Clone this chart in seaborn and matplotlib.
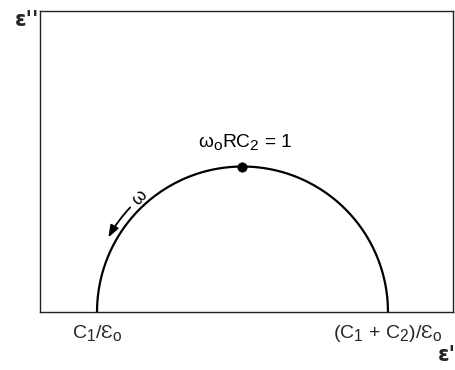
import numpy as np
import pandas as pd
import matplotlib
matplotlib.use("Agg")
import matplotlib.pyplot as plt
import matplotlib._mathtext as _mt
import seaborn as sns
from matplotlib.patches import FancyArrowPatch

# Debye relaxation: permittivity limits (in units of C/eps0)
eps_inf = 1.0          # C1/eps0
eps_s = 3.0            # (C1 + C2)/eps0
omega_tau = np.logspace(-4, 4, 600)

tick_labels = ["C$_1$/Ɛ$_\\mathrm{o}$", "(C$_1$ + C$_2$)/Ɛ$_\\mathrm{o}$"]
peak_label = "ω$_\\mathrm{o}$RC$_2$ = 1"

d_eps = eps_s - eps_inf
eps_re = eps_inf + d_eps / (1 + omega_tau ** 2)
eps_im = d_eps * omega_tau / (1 + omega_tau ** 2)
df = pd.DataFrame({"eps_re": eps_re, "eps_im": eps_im})

sns.set_theme(style="white")
plt.rcParams["font.family"] = ["Liberation Sans", "DejaVu Sans"]
plt.rcParams["mathtext.fontset"] = "custom"
plt.rcParams["mathtext.rm"] = "Liberation Sans"
plt.rcParams["mathtext.it"] = "Liberation Sans"
# slightly larger subscripts
if hasattr(_mt, "SHRINK_FACTOR"):
    _mt.SHRINK_FACTOR = 0.8

fig = plt.figure(figsize=(4.55, 3.70), dpi=100)
ax = fig.add_axes([40 / 455, 1 - 312 / 370, 413 / 455, 301 / 370])

sns.lineplot(data=df, x="eps_re", y="eps_im", sort=False, color="black",
             linewidth=1.6, ax=ax)
sns.scatterplot(x=[eps_inf + d_eps / 2], y=[d_eps / 2], color="black",
                s=45, edgecolor="black", ax=ax, zorder=5)

r = d_eps / 2
cx = eps_inf + r
ax.set_xlim(eps_inf - 0.392 * r, eps_s + 0.447 * r)
ax.set_ylim(0, 2.069 * r)

ax.text(cx + 0.02, 1.17 * r, peak_label, ha="center", va="center",
        fontsize=13.8, color="black")

# direction of increasing frequency along the arc
ra = 1.055 * r
t1, t2 = np.deg2rad(136), np.deg2rad(152)
arrow = FancyArrowPatch((cx + ra * np.cos(t1), ra * np.sin(t1)),
                        (cx + ra * np.cos(t2), ra * np.sin(t2)),
                        connectionstyle="arc3,rad=0.07",
                        arrowstyle="-|>,head_length=0.6,head_width=0.22",
                        mutation_scale=12, lw=1.3, color="black")
ax.add_patch(arrow)
tw = np.deg2rad(132)
ax.text(cx + 1.055 * r * np.cos(tw), 1.055 * r * np.sin(tw), "ω",
        rotation=48, ha="center", va="center", fontsize=13, color="black")

ax.set_xticks([eps_inf, eps_s])
ax.set_xticklabels(tick_labels, fontsize=14)
ax.set_yticks([])
ax.tick_params(axis="x", length=0, pad=8)
ax.set_xlabel("")
ax.set_ylabel("")
for sp in ax.spines.values():
    sp.set_visible(True)
    sp.set_color("#222222")
    sp.set_linewidth(1.0)

fig.text(15 / 455, 1 - 20 / 370, "ε''", fontsize=15, fontweight="bold",
         family=["DejaVu Sans"], ha="left", va="center")
fig.text(438 / 455, 1 - 355 / 370, "ε'", fontsize=15, fontweight="bold",
         family=["DejaVu Sans"], ha="left", va="center")

fig.savefig("out.png", dpi=100, facecolor="white")
